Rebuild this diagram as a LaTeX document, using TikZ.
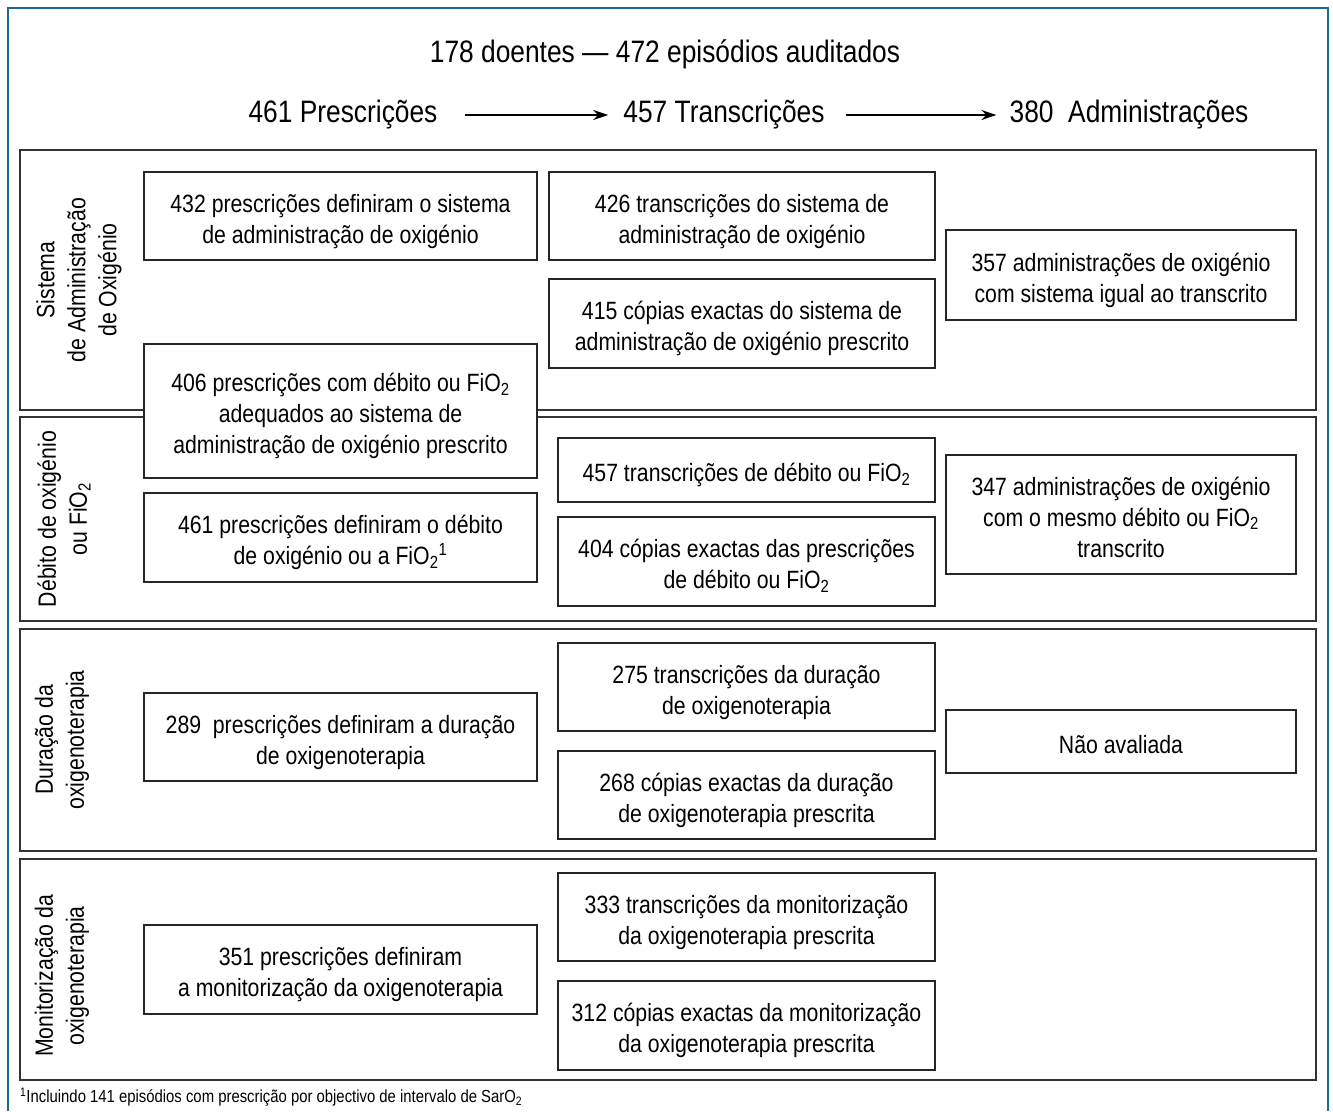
\documentclass[tikz,border=0pt]{standalone}
\usepackage{fontspec}
\setmainfont[FakeStretch=0.85]{Liberation Sans}
\usetikzlibrary{arrows.meta}

\definecolor{framecol}{RGB}{28,108,145}

% struts that fix the first and last line of a box
\newcommand{\topstr}{\rule{0pt}{30pt}}
\newcommand{\botstr}{\rule[-7pt]{0pt}{0pt}}

\tikzset{
  cell/.style={draw=black!85, fill=white, line width=1.2pt, align=center,
    font=\fontsize{25}{31}\selectfont, inner sep=0pt},
  sect/.style={draw=black!80, line width=1.5pt},
  sidelabel/.style={rotate=90, align=center, font=\fontsize{25}{31}\selectfont},
  head/.style={font=\fontsize{31}{37}\selectfont, inner sep=0pt},
  flow/.style={line width=1.3pt, -{Stealth[length=15pt,width=10pt]}},
}

\begin{document}
\begin{tikzpicture}[x=1pt, y=-1pt]
\useasboundingbox (0,0) rectangle (1333,1111);

% Column centres and widths
\newcommand{\colA}{340.5}
\newcommand{\colB}{746.5}
\newcommand{\colC}{1121}
\newcommand{\wA}{393pt}
\newcommand{\wB}{377pt}
\newcommand{\wC}{350pt}

% Outer frame, open at the bottom
\draw[framecol, line width=2.5pt] (8,1111) -- (8,8) -- (1328,8) -- (1328,1111);

% Title and header row
\node[head] (title) at (665,54) {178 doentes — 472 episódios auditados};
\node[head] (hpresc) at (343,115) {461 Prescrições};
\node[head] (htrans) at (724,115) {457 Transcrições};
\node[head] (hadmin) at (1129,115) {380~ Administrações};
\draw[flow, shorten <=27pt, shorten >=15pt] (hpresc.east) -- (htrans.west);
\draw[flow, shorten <=21pt, shorten >=13pt] (htrans.east) -- (hadmin.west);

% Sections
\draw[sect] (20,150) rectangle (1316,410);
\draw[sect] (20,417) rectangle (1316,621);
\draw[sect] (20,629) rectangle (1316,851);
\draw[sect] (20,859) rectangle (1316,1080);

\node[sidelabel] (lsys) at (79,280) {Sistema\\de Administração\\de Oxigénio};
\node[sidelabel] (ldeb) at (64,519) {Débito de oxigénio\\ou FiO\textsubscript{2}};
\node[sidelabel] (ldur) at (62,740) {Duração da\\oxigenoterapia};
\node[sidelabel] (lmon) at (62,976) {Monitorização da\\oxigenoterapia};

% Prescriptions
\node[cell, minimum width=\wA, minimum height=88pt] (p432) at (\colA,216)
  {\topstr 432 prescrições definiram o sistema\\de administração de oxigénio\botstr};
\node[cell, minimum width=\wA, minimum height=134pt] (p406) at (\colA,411)
  {\topstr 406 prescrições com débito ou FiO\textsubscript{2}\\adequados ao sistema de\\administração de oxigénio prescrito\botstr};
\node[cell, minimum width=\wA, minimum height=89pt] (p461) at (\colA,537.5)
  {\topstr 461 prescrições definiram o débito\\de oxigénio ou a FiO\textsubscript{2}\textsuperscript{1}\botstr};
\node[cell, minimum width=\wA, minimum height=88pt] (p289) at (\colA,737)
  {\topstr 289~ prescrições definiram a duração\\de oxigenoterapia\botstr};
\node[cell, minimum width=\wA, minimum height=89pt] (p351) at (\colA,969.5)
  {\topstr 351 prescrições definiram\\a monitorização da oxigenoterapia\botstr};

% Transcriptions
\node[cell, minimum width=386pt, minimum height=88pt] (t426) at (742,216)
  {\topstr 426 transcrições do sistema de\\administração de oxigénio\botstr};
\node[cell, minimum width=386pt, minimum height=89pt] (t415) at (742,323.5)
  {\topstr 415 cópias exactas do sistema de\\administração de oxigénio prescrito\botstr};
\node[cell, minimum width=\wB, minimum height=64pt] (t457) at (\colB,470)
  {\topstr 457 transcrições de débito ou FiO\textsubscript{2}\botstr};
\node[cell, minimum width=\wB, minimum height=89pt] (t404) at (\colB,561.5)
  {\topstr 404 cópias exactas das prescrições\\de débito ou FiO\textsubscript{2}\botstr};
\node[cell, minimum width=\wB, minimum height=88pt] (t275) at (\colB,687)
  {\topstr 275 transcrições da duração\\de oxigenoterapia\botstr};
\node[cell, minimum width=\wB, minimum height=88pt] (t268) at (\colB,795)
  {\topstr 268 cópias exactas da duração\\de oxigenoterapia prescrita\botstr};
\node[cell, minimum width=\wB, minimum height=88pt] (t333) at (\colB,917)
  {\topstr 333 transcrições da monitorização\\da oxigenoterapia prescrita\botstr};
\node[cell, minimum width=\wB, minimum height=89pt] (t312) at (\colB,1025.5)
  {\topstr 312 cópias exactas da monitorização\\da oxigenoterapia prescrita\botstr};

% Administrations
\node[cell, minimum width=\wC, minimum height=90pt] (a357) at (\colC,275)
  {\topstr 357 administrações de oxigénio\\com sistema igual ao transcrito\botstr};
\node[cell, minimum width=\wC, minimum height=119pt] (a347) at (\colC,514.5)
  {\topstr 347 administrações de oxigénio\\com o mesmo débito ou FiO\textsubscript{2}\\transcrito\botstr};
\node[cell, minimum width=\wC, minimum height=63pt] (anao) at (\colC,741.5)
  {\topstr Não avaliada\botstr};

% Footnote
\node[font=\fontsize{17.5}{20}\selectfont, anchor=west, inner sep=0pt] (note) at (20,1097)
  {\textsuperscript{1}Incluindo 141 episódios com prescrição por objectivo de intervalo de SarO\textsubscript{2}};

\end{tikzpicture}
\end{document}
